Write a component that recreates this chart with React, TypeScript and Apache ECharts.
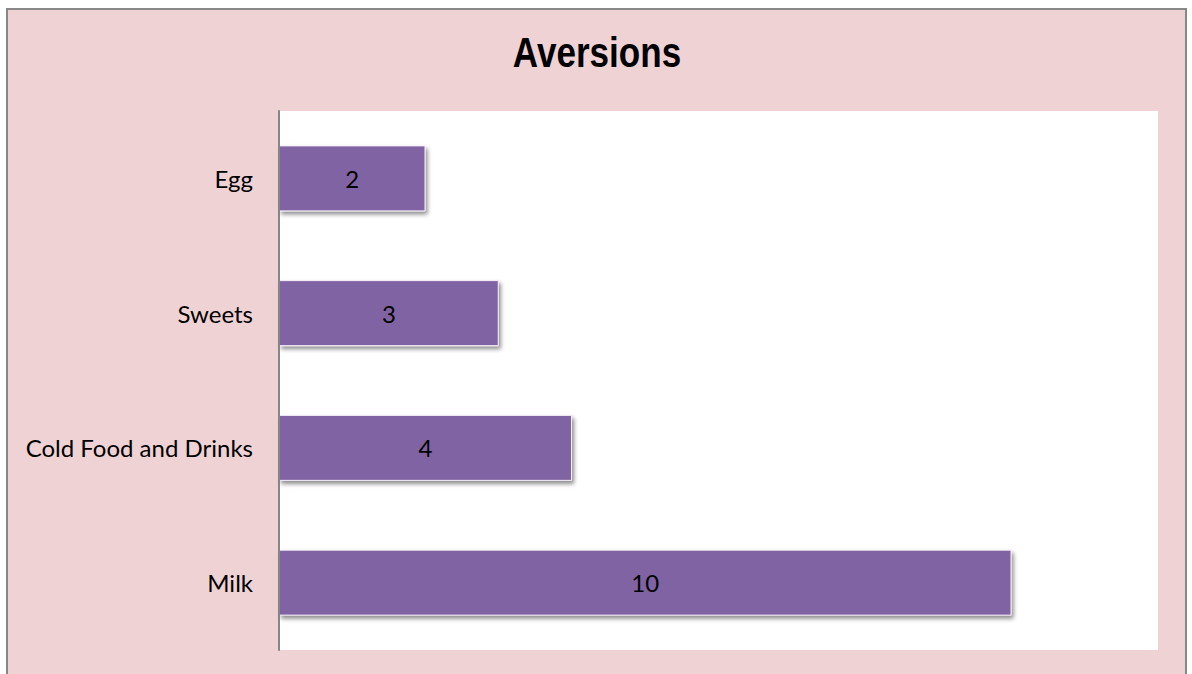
import React, { useEffect, useRef } from "react";
import * as echarts from "echarts";

const categories = ["Egg", "Sweets", "Cold Food and Drinks", "Milk"];
const values = [2, 3, 4, 10];
const titleText = "Aversions";

export default function App() {
  const ref = useRef<HTMLDivElement>(null);
  useEffect(() => {
    const chart = echarts.init(ref.current!, undefined, { renderer: "svg" });
    chart.setOption({
      animation: false,
      backgroundColor: "#ffffff",
      graphic: [
        {
          type: "rect",
          z: -100,
          zlevel: 0,
          silent: true,
          shape: { x: 7, y: 9, width: 1179, height: 700 },
          style: { fill: "#EFD3D4", stroke: "#888888", lineWidth: 2 },
        },
        {
          type: "text",
          x: 597,
          y: 52,
          scaleX: 0.835,
          z: 10,
          style: {
            text: titleText,
            fill: "#000",
            font: "bold 42px 'Liberation Sans Narrow', 'Arial Narrow', 'Liberation Sans', sans-serif",
            align: "center",
            verticalAlign: "middle",
          },
        },
      ],
      grid: {
        left: 279,
        top: 111,
        right: 34,
        bottom: 24,
        show: true,
        backgroundColor: "#ffffff",
        borderWidth: 0,
        z: 1,
      },
      xAxis: {
        type: "value",
        min: 0,
        max: 12,
        show: false,
        splitLine: { show: false },
      },
      yAxis: {
        type: "category",
        inverse: true,
        data: categories,
        axisLine: { show: true, lineStyle: { color: "#868686", width: 2 } },
        axisTick: { show: false },
        axisLabel: {
          color: "#000",
          fontFamily: "Lato, sans-serif",
          fontSize: 24,
          margin: 26,
        },
        z: 5,
      },
      series: [
        {
          type: "bar",
          data: values,
          barWidth: 66,
          itemStyle: {
            color: "#8064A2",
            borderColor: "#F4EEF8",
            borderWidth: 1,
            shadowColor: "rgba(0,0,0,0.45)",
            shadowBlur: 4,
            shadowOffsetX: 2,
            shadowOffsetY: 3,
          },
          label: {
            show: true,
            position: "inside",
            color: "#000",
            fontFamily: "Lato, sans-serif",
            fontSize: 24,
          },
        },
      ],
    });
    return () => chart.dispose();
  }, []);
  return (
    <div
      ref={ref}
      style={{ position: "fixed", left: 0, top: 0, width: 1192, height: 674 }}
    />
  );
}
